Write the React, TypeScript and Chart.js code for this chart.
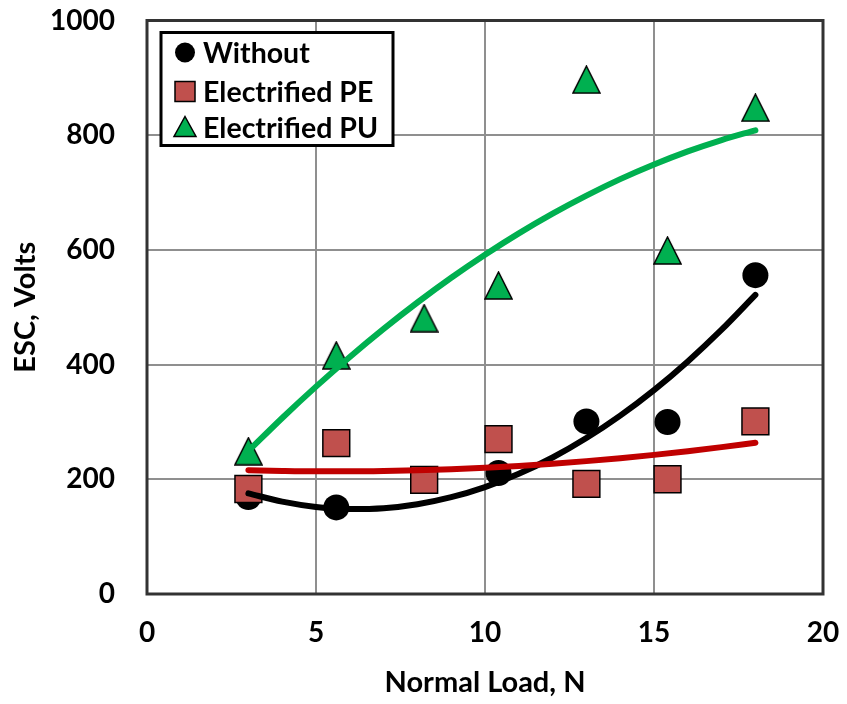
import React, { useEffect, useRef } from 'react';
import { Chart, registerables } from 'chart.js';
Chart.register(...registerables);

// ---- data ----
const loadX = [3, 5.6, 8.2, 10.4, 13, 15.4, 18];
const withoutX = [3, 5.6, 10.4, 13, 15.4, 18];
const withoutY = [169, 151, 211, 301, 300, 556];
const peY = [183, 263, 199, 270, 192, 200, 301];
const puY = [249, 416, 481, 538, 897, 599, 848];

// trendline values
const trendX = [3, 4, 5, 6, 7, 8, 9, 10, 11, 12, 13, 14, 15, 16, 17, 18];
const withoutTrend = [175.5, 161, 151.8, 148, 149.5, 156.5, 168.8, 186.5, 209.6, 238, 271.9, 311.1, 355.6, 405.6, 460.9, 521.6];
const peTrend = [215.9, 214.6, 213.9, 213.9, 214.5, 215.8, 217.7, 220.2, 223.4, 227.3, 231.7, 236.9, 242.6, 249, 256.1, 263.8];
const puTrend = [249.3, 306.9, 361.6, 413.4, 462.3, 508.3, 551.4, 591.6, 628.9, 663.3, 694.7, 723.4, 749, 771.8, 791.6, 808.6];

const seriesLabels = ['Without', 'Electrified PE', 'Electrified PU'];
const xTitle = 'Normal Load, N';
const yTitle = 'ESC, Volts';

const FONT = 'Lato';
const GREEN = '#00B050';
const RED_MARK = '#C0504D';
const RED_LINE = '#C00000';

function makeTriangle(size: number, fill: string, stroke: number): HTMLCanvasElement {
  const c = document.createElement('canvas');
  const w = size + 2;
  c.width = w;
  c.height = w;
  const ctx = c.getContext('2d')!;
  ctx.beginPath();
  ctx.moveTo(w / 2, 1);
  ctx.lineTo(w - 1, w - 1);
  ctx.lineTo(1, w - 1);
  ctx.closePath();
  ctx.fillStyle = fill;
  ctx.fill();
  ctx.lineWidth = stroke;
  ctx.strokeStyle = '#000';
  ctx.stroke();
  return c;
}

const pts = (xs: number[], ys: number[]) => xs.map((x, i) => ({ x, y: ys[i] }));

const zeroPad = (s: any) => {
  s.paddingTop = 0;
  s.paddingBottom = 0;
  s.paddingLeft = 0;
  s.paddingRight = 0;
};

export default function App() {
  const ref = useRef<HTMLCanvasElement | null>(null);
  useEffect(() => {
    document.body.style.margin = '0';
    const tri = makeTriangle(27, GREEN, 1.5);

    const frameAndLegend = {
      id: 'frameAndLegend',
      afterDraw(chart: any) {
        const { ctx, chartArea } = chart;
        ctx.save();
        ctx.strokeStyle = '#333';
        ctx.lineWidth = 3;
        ctx.strokeRect(chartArea.left, chartArea.top, chartArea.right - chartArea.left, chartArea.bottom - chartArea.top);
        const bx = chartArea.left + 14;
        const by = chartArea.top + 12;
        const bw = 232;
        const bh = 113;
        ctx.fillStyle = '#fff';
        ctx.fillRect(bx, by, bw, bh);
        ctx.lineWidth = 3;
        ctx.strokeStyle = '#000';
        ctx.strokeRect(bx, by, bw, bh);
        const rows = [by + 20, by + 59, by + 95];
        const mx = bx + 24;
        const tx = bx + 42;
        ctx.fillStyle = '#000';
        ctx.beginPath();
        ctx.arc(mx, rows[0], 10, 0, Math.PI * 2);
        ctx.fill();
        ctx.fillStyle = RED_MARK;
        ctx.fillRect(mx - 10, rows[1] - 10, 20, 20);
        ctx.lineWidth = 1.5;
        ctx.strokeRect(mx - 10, rows[1] - 10, 20, 20);
        ctx.beginPath();
        ctx.moveTo(mx, rows[2] - 11);
        ctx.lineTo(mx + 11, rows[2] + 9);
        ctx.lineTo(mx - 11, rows[2] + 9);
        ctx.closePath();
        ctx.fillStyle = GREEN;
        ctx.fill();
        ctx.stroke();
        ctx.fillStyle = '#000';
        ctx.font = `bold 28.5px ${FONT}`;
        ctx.textBaseline = 'middle';
        ctx.textAlign = 'left';
        seriesLabels.forEach((t, i) => ctx.fillText(t, tx, rows[i] + 1));
        ctx.restore();
      },
    };

    const tickFont = { family: FONT, size: 28, weight: 'bold' };
    const titleFont = { family: FONT, size: 29, weight: 'bold' };

    const chart = new Chart(ref.current!, {
      type: 'scatter',
      data: {
        datasets: [
          {
            label: seriesLabels[2] + ' trend',
            data: pts(trendX, puTrend),
            showLine: true,
            borderColor: GREEN,
            borderWidth: 6,
            borderCapStyle: 'round',
            pointRadius: 0,
            cubicInterpolationMode: 'monotone',
            order: 1,
          },
          {
            label: seriesLabels[1] + ' trend',
            data: pts(trendX, peTrend),
            showLine: true,
            borderColor: RED_LINE,
            borderWidth: 6,
            borderCapStyle: 'round',
            pointRadius: 0,
            cubicInterpolationMode: 'monotone',
            order: 2,
          },
          {
            label: seriesLabels[0] + ' trend',
            data: pts(trendX, withoutTrend),
            showLine: true,
            borderColor: '#000',
            borderWidth: 6,
            borderCapStyle: 'round',
            pointRadius: 0,
            cubicInterpolationMode: 'monotone',
            order: 3,
          },
          {
            label: seriesLabels[2],
            data: pts(loadX, puY),
            pointStyle: tri,
            pointRadius: 14,
            order: 4,
          },
          {
            label: seriesLabels[1],
            data: pts(loadX, peY),
            pointStyle: 'rect',
            pointRadius: 19,
            backgroundColor: RED_MARK,
            borderColor: '#000',
            borderWidth: 1.5,
            order: 5,
          },
          {
            label: seriesLabels[0],
            data: pts(withoutX, withoutY),
            pointStyle: 'circle',
            pointRadius: 13,
            backgroundColor: '#000',
            borderColor: '#000',
            borderWidth: 0,
            order: 6,
          },
        ] as any,
      },
      options: {
        responsive: false,
        animation: false,
        layout: { padding: { left: 0, right: 24, top: 20, bottom: 0 } },
        plugins: { legend: { display: false }, tooltip: { enabled: false } },
        scales: {
          x: {
            type: 'linear',
            min: 0,
            max: 20,
            afterFit: (s: any) => { s.height = 110; zeroPad(s); },
            ticks: { stepSize: 5, color: '#000', font: tickFont, padding: 22, callback: (v: any) => String(v) },
            grid: { color: '#8f8f8f', lineWidth: 2, drawTicks: false },
            border: { display: false },
            title: { display: true, text: xTitle, color: '#000', font: titleFont, padding: { top: 0, bottom: 4 } },
          },
          y: {
            type: 'linear',
            min: 0,
            max: 1000,
            afterFit: (s: any) => { s.width = 147; zeroPad(s); },
            ticks: { stepSize: 200, color: '#000', font: tickFont, padding: 32, callback: (v: any) => String(v) },
            grid: { color: '#8f8f8f', lineWidth: 2, drawTicks: false },
            border: { display: false },
            title: { display: true, text: yTitle, color: '#000', font: titleFont, padding: { top: 8, bottom: 0 } },
          },
        },
      },
      plugins: [frameAndLegend],
    } as any);
    return () => chart.destroy();
  }, []);
  return (
    <div style={{ width: 847, height: 704, background: '#fff' }}>
      <canvas ref={ref} width={847} height={704} />
    </div>
  );
}
